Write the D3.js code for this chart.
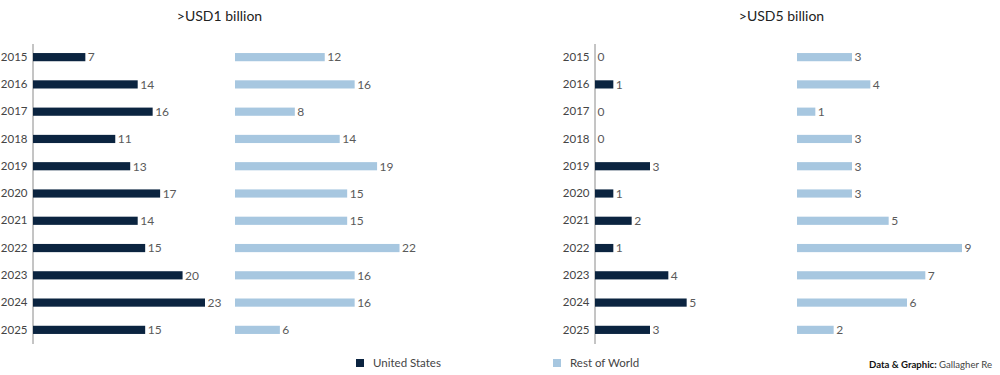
<!DOCTYPE html>
<html>
<head>
    <meta charset="utf-8">
    <script src="https://cdn.jsdelivr.net/npm/d3@7/dist/d3.min.js"></script>
    <style>
        body { margin: 0; background: #fff; }
        svg { font-family: Lato, "Open Sans", sans-serif; }
    </style>
</head>
<body>
<svg width="1000" height="375"></svg>
<script type="text/javascript">
    var years = ["2015", "2016", "2017", "2018", "2019", "2020", "2021", "2022", "2023", "2024", "2025"];
    var usOver1 = [7, 14, 16, 11, 13, 17, 14, 15, 20, 23, 15];
    var rowOver1 = [12, 16, 8, 14, 19, 15, 15, 22, 16, 16, 6];
    var usOver5 = [0, 1, 0, 0, 3, 1, 2, 1, 4, 5, 3];
    var rowOver5 = [3, 4, 1, 3, 3, 3, 5, 9, 7, 6, 2];
    var seriesNames = ["United States", "Rest of World"];
    var colors = ["#0b2440", "#a7c7e0"];

    var svg = d3.select("svg");

    var y = d3.scaleBand()
            .domain(years)
            .range([43.5, 343.5])
            .paddingInner(0.7)
            .paddingOuter(0.35);

    var panels = [
        {title: ">USD1 billion", left: 32.5, us: usOver1, row: rowOver1, max: 23, width: 172},
        {title: ">USD5 billion", left: 594.5, us: usOver5, row: rowOver5, max: 9, width: 165}
    ];

    panels.forEach(function (p) {
        var g = svg.append("g").attr("transform", "translate(" + p.left + ",0)");
        var x = d3.scaleLinear().domain([0, p.max]).range([0, p.width]);
        var rowStart = 202.5;

        g.append("text")
                .attr("x", 187)
                .attr("y", 21)
                .attr("text-anchor", "middle")
                .attr("font-size", 14)
                .attr("fill", "#222")
                .text(p.title);

        var axis = g.append("g")
                .call(d3.axisLeft(y).tickSize(0).tickPadding(5).tickSizeOuter(0));
        axis.select(".domain").attr("stroke", "#8a8a8a");
        axis.selectAll(".tick text")
                .attr("font-size", 11.5)
                .attr("font-family", "Lato, sans-serif")
                .attr("fill", "#444");

        [p.us, p.row].forEach(function (vals, si) {
            var x0 = si === 0 ? 0.5 : rowStart;
            var s = g.append("g");
            s.selectAll("rect")
                    .data(vals)
                    .enter()
                    .append("rect")
                    .attr("x", x0)
                    .attr("y", function (d, i) { return y(years[i]); })
                    .attr("height", y.bandwidth())
                    .attr("width", function (d) { return x(d); })
                    .attr("fill", colors[si]);
            s.selectAll("text")
                    .data(vals)
                    .enter()
                    .append("text")
                    .attr("x", function (d) { return x0 + x(d) + 2.5; })
                    .attr("y", function (d, i) { return y(years[i]) + y.bandwidth() / 2; })
                    .attr("dy", "0.36em")
                    .attr("font-size", 12)
                    .attr("fill", "#5a5a5a")
                    .text(function (d) { return d; });
        });
    });

    // legend
    var legendX = [356, 553];
    seriesNames.forEach(function (name, i) {
        svg.append("rect")
                .attr("x", legendX[i])
                .attr("y", 359)
                .attr("width", 8)
                .attr("height", 8)
                .attr("fill", colors[i]);
        svg.append("text")
                .attr("x", legendX[i] + 17)
                .attr("y", 367)
                .attr("font-size", 11.5)
                .attr("fill", "#444")
                .text(name);
    });

    var source = svg.append("text")
            .attr("x", 992)
            .attr("y", 368)
            .attr("text-anchor", "end")
            .attr("font-size", 9.6)
            .attr("fill", "#444");
    source.append("tspan").attr("font-weight", "bold").attr("fill", "#111").text("Data & Graphic: ");
    source.append("tspan").text("Gallagher Re");
</script>
</body>
</html>
